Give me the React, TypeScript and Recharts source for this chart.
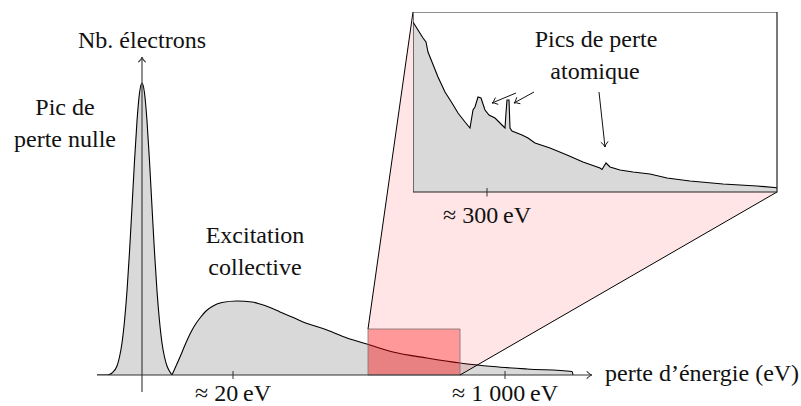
import { Area, ComposedChart, ReferenceArea, ReferenceLine, XAxis, YAxis } from 'recharts'

const FONT = "'Liberation Serif', 'DejaVu Serif', serif"
const INK = '#111'

// zero-loss peak (x: arbitrary energy units, y: counts)
const zeroLossX = [-45, -35, -30, -25, -22.5, -20, -17.5, -15, -12.5, -10, -7.5, -5, -2.5, 0, 2.5, 5, 7.5, 10, 12.5, 15, 17.5, 20, 22.5, 25, 28, 30]
const zeroLossY = [0, 0, 2, 9, 18, 32, 54, 84, 123, 168, 214, 254, 282, 292, 282, 254, 214, 168, 123, 84, 54, 32, 18, 9, 3, 0]

// collective excitation (plasmon) + tail
const plasmonX = [30, 34, 38, 43, 48, 53, 58, 64, 71, 80, 95, 110, 118, 128, 138, 150, 161, 173, 185, 205, 228, 251, 285, 318, 351, 385, 430, 431]
const plasmonY = [0, 9, 18, 30, 41, 50, 57, 64, 69, 72.5, 74, 73, 71, 67.5, 63, 58, 53, 49, 45, 37, 30, 23, 17, 12, 8.5, 6, 3.5, 0]

// zoomed spectrum around the atomic edges
const insetX = [0, 5, 10, 13, 15, 19, 25, 32, 39, 45, 52, 57, 60, 62, 65, 68, 72, 76, 82, 89, 92, 93, 94, 96, 97, 99, 109, 115, 122, 137, 154, 170, 187, 189, 193, 197, 207, 220, 237, 254, 277, 310, 344, 364]
const insetY = [170, 162, 154, 150, 140, 130, 115, 100, 89, 79, 70, 64, 82, 85, 95, 94, 82, 77, 74, 67, 64, 79, 92, 92, 64, 61, 57, 54, 49, 44, 37, 30, 24, 22.5, 29, 25, 22, 20, 18, 14, 11, 8, 6, 4.3]

// tick labels
const mainTicks = [91, 363]
const mainTickLabels = ['≈ 20\u2009eV', '≈ 1 000\u2009eV']
const insetTicks = [74]
const insetTickLabels = ['≈ 300\u2009eV']

// zoomed window on the main axis
const zoomFrom = 226
const zoomTo = 318
const zoomTop = 46

const zeroLossData = zeroLossX.map((x, i) => ({ x, y: zeroLossY[i] }))
const plasmonData = plasmonX.map((x, i) => ({ x, y: plasmonY[i] }))
const insetData = insetX.map((x, i) => ({ x, y: insetY[i] }))

// layout
const W = 801
const H = 406
const M = { top: 57, right: 209, bottom: 31, left: 97 }
const X_DOMAIN: [number, number] = [-45, 450]
const Y_DOMAIN: [number, number] = [0, 318]
const INSET = { left: 413, top: 12, width: 364, height: 180 }

const px = (x: number) => M.left + ((x - X_DOMAIN[0]) / (X_DOMAIN[1] - X_DOMAIN[0])) * (W - M.left - M.right)
const py = (y: number) => M.top + (1 - (y - Y_DOMAIN[0]) / (Y_DOMAIN[1] - Y_DOMAIN[0])) * (H - M.top - M.bottom)

const textStyle = { fontFamily: FONT, fontSize: 24, fill: INK }

function arrowShape(color: string, width: number, head = 6) {
  return (p: any) => {
    const { x1, y1, x2, y2 } = p
    const a = Math.atan2(y2 - y1, x2 - x1)
    const s = 0.6
    const b1 = `${x2 - head * Math.cos(a - s)},${y2 - head * Math.sin(a - s)}`
    const b2 = `${x2 - head * Math.cos(a + s)},${y2 - head * Math.sin(a + s)}`
    const c = `${x2 - 1.5 * Math.cos(a)},${y2 - 1.5 * Math.sin(a)}`
    return (
      <g>
        <line x1={x1} y1={y1} x2={x2} y2={y2} stroke={color} strokeWidth={width} />
        <path d={`M${b1} Q${c} ${x2},${y2} Q${c} ${b2}`} fill="none" stroke={color} strokeWidth={width} strokeLinecap="round" />
      </g>
    )
  }
}

function tickShape(label: string, gap: number) {
  return (p: any) => (
    <g>
      <line x1={p.x1} y1={p.y1} x2={p.x2} y2={p.y2} stroke="#333" strokeWidth={1} />
      <text x={p.x1} y={Math.max(p.y1, p.y2) + gap} textAnchor="middle" style={textStyle}>
        {label}
      </text>
    </g>
  )
}

function MainChart() {
  return (
    <ComposedChart width={W} height={H} margin={M}>
      <XAxis type="number" dataKey="x" domain={X_DOMAIN} allowDataOverflow hide />
      <YAxis type="number" domain={Y_DOMAIN} allowDataOverflow hide />
      <Area data={zeroLossData} dataKey="y" type="monotone" stroke="#000" strokeWidth={1.1} fill="#d9d9d9" fillOpacity={1} isAnimationActive={false} />
      <Area data={plasmonData} dataKey="y" type="monotone" stroke="#000" strokeWidth={1.1} fill="#d9d9d9" fillOpacity={1} isAnimationActive={false} />
      <ReferenceArea x1={zoomFrom} x2={zoomTo} y1={0} y2={zoomTop} fill="#ff0000" fillOpacity={0.4} stroke="#777" strokeOpacity={0.8} strokeWidth={1} ifOverflow="visible" />
      <ReferenceLine segment={[{ x: X_DOMAIN[0], y: 0 }, { x: X_DOMAIN[1], y: 0 }]} ifOverflow="visible" shape={arrowShape('#333', 1.1)} />
      <ReferenceLine segment={[{ x: 0, y: -17 }, { x: 0, y: Y_DOMAIN[1] }]} ifOverflow="visible" shape={arrowShape('#333', 1.1)} />
      {mainTicks.map((t, i) => (
        <ReferenceLine key={t} segment={[{ x: t, y: -4 }, { x: t, y: 4 }]} ifOverflow="visible" shape={tickShape(mainTickLabels[i], 22)} />
      ))}
    </ComposedChart>
  )
}

function InsetChart() {
  return (
    <ComposedChart width={INSET.width + 1} height={INSET.height + 45} margin={{ top: 0, right: 1, bottom: 45, left: 0 }}>
      <XAxis type="number" dataKey="x" domain={[0, INSET.width]} allowDataOverflow hide />
      <YAxis type="number" domain={[0, INSET.height]} allowDataOverflow hide />
      <Area data={insetData} dataKey="y" type="linear" stroke="#000" strokeWidth={1.1} fill="#d9d9d9" fillOpacity={1} isAnimationActive={false} />
      <ReferenceArea x1={0} x2={INSET.width} y1={0} y2={INSET.height} fill="none" stroke="#222" strokeWidth={1.2} ifOverflow="visible" />
      {insetTicks.map((t, i) => (
        <ReferenceLine key={t} segment={[{ x: t, y: -4.5 }, { x: t, y: 4 }]} ifOverflow="visible" shape={tickShape(insetTickLabels[i], 26)} />
      ))}
      <ReferenceLine segment={[{ x: 103, y: 99 }, { x: 79, y: 89 }]} ifOverflow="visible" shape={arrowShape('#111', 1)} />
      <ReferenceLine segment={[{ x: 121, y: 100 }, { x: 101, y: 89 }]} ifOverflow="visible" shape={arrowShape('#111', 1)} />
      <ReferenceLine segment={[{ x: 186, y: 100 }, { x: 192, y: 45 }]} ifOverflow="visible" shape={arrowShape('#111', 1)} />
    </ComposedChart>
  )
}

export default function App() {
  const rx1 = px(zoomFrom)
  const rx2 = px(zoomTo)
  const ry = py(zoomTop)
  const by = py(0)
  const ix2 = INSET.left + INSET.width
  const iy2 = INSET.top + INSET.height
  return (
    <div style={{ position: 'absolute', left: 0, top: 0, width: W, height: H, background: '#fff', fontFamily: FONT }}>
      <div style={{ position: 'absolute', left: 0, top: 0 }}>
        <MainChart />
      </div>
      <svg width={W} height={H} style={{ position: 'absolute', left: 0, top: 0 }}>
        <polygon points={`${rx1},${ry} ${INSET.left},${INSET.top} ${ix2},${INSET.top} ${ix2},${iy2} ${rx2},${by} ${rx2},${ry}`} fill="#ff0000" fillOpacity={0.1} />
        <line x1={rx1} y1={ry} x2={INSET.left} y2={INSET.top} stroke="#000" strokeWidth={1} />
        <line x1={rx2} y1={by} x2={ix2} y2={iy2} stroke="#000" strokeWidth={1} />
      </svg>
      <div style={{ position: 'absolute', left: INSET.left, top: INSET.top, width: INSET.width, height: INSET.height, background: '#fff' }} />
      <div style={{ position: 'absolute', left: INSET.left, top: INSET.top }}>
        <InsetChart />
      </div>
      <svg width={W} height={H} style={{ position: 'absolute', left: 0, top: 0, pointerEvents: 'none' }}>
        <text x={142} y={48} textAnchor="middle" style={textStyle}>Nb. électrons</text>
        <text x={65} y={115} textAnchor="middle" style={textStyle}>Pic de</text>
        <text x={65} y={147} textAnchor="middle" style={textStyle}>perte nulle</text>
        <text x={255} y={243} textAnchor="middle" style={textStyle}>Excitation</text>
        <text x={255} y={275} textAnchor="middle" style={textStyle}>collective</text>
        <text x={596} y={47} textAnchor="middle" style={textStyle}>Pics de perte</text>
        <text x={595} y={79} textAnchor="middle" style={textStyle}>atomique</text>
        <text x={605} y={381} style={textStyle}>perte d’énergie (eV)</text>
      </svg>
    </div>
  )
}
